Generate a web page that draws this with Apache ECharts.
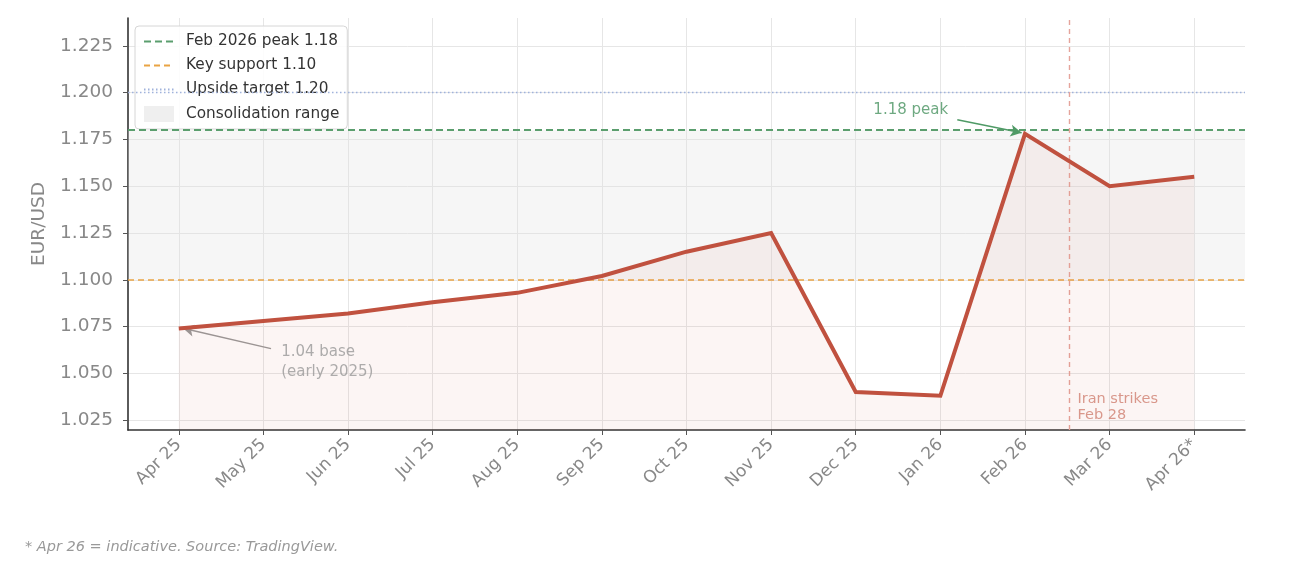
<!DOCTYPE html>
<html>
<head>
<meta charset="utf-8">
<script src="https://cdn.jsdelivr.net/npm/echarts@6/dist/echarts.min.js"></script>
<style>html,body{margin:0;padding:0;background:#fff;}#c{width:1290px;height:564px;}</style>
</head>
<body>
<div id="c"></div>
<script>
const months = ['Apr 25','May 25','Jun 25','Jul 25','Aug 25','Sep 25','Oct 25','Nov 25','Dec 25','Jan 26','Feb 26','Mar 26','Apr 26*'];
const rates = [1.074, 1.078, 1.082, 1.088, 1.093, 1.102, 1.115, 1.125, 1.040, 1.038, 1.178, 1.150, 1.155];
const yTicks = [1.025, 1.050, 1.075, 1.100, 1.125, 1.150, 1.175, 1.200, 1.225];
const peakLevel = 1.18;
const supportLevel = 1.10;
const targetLevel = 1.20;
const rangeLow = 1.10, rangeHigh = 1.18;
const iranStrikeX = 10.52; // Feb 28 between Feb 26 and Mar 26
const peakNote = {text: '1.18 peak', x: 8.65, y: 1.1908, arrowFrom: [9.2, 1.1855], arrowTo: [9.96, 1.1786]};
const baseNote = {text: '1.04 base\n(early 2025)', x: 1.21, y: 1.0665, arrowFrom: [1.09, 1.0632], arrowTo: [0.05, 1.0741]};
const iranNote = {text: 'Iran strikes\nFeb 28', x: 10.62, y: 1.0405};

const idx = months.map((m, i) => i);
const font = 'DejaVu Sans';
const chart = echarts.init(document.getElementById('c'));
chart.setOption({
  animation: false,
  backgroundColor: '#fff',
  textStyle: {fontFamily: font},
  title: {
    text: '* Apr 26 = indicative. Source: TradingView.',
    left: 20, top: 535,
    textStyle: {fontFamily: font, fontSize: 14.5, fontStyle: 'italic', fontWeight: 'normal', color: '#999'}
  },
  grid: {left: 128, right: 45, top: 18, bottom: 134},
  legend: {
    orient: 'vertical', left: 135, top: 26,
    backgroundColor: 'rgba(255,255,255,0.85)', borderColor: '#d6d6d6', borderWidth: 1, borderRadius: 4,
    padding: [8, 8, 7, 8], itemGap: 9, itemWidth: 30, itemHeight: 16,
    itemStyle: {opacity: 0},
    textStyle: {fontFamily: font, fontSize: 15.3, color: '#333', padding: [0, 0, 0, 7]},
    data: [
      {name: 'Feb 2026 peak 1.18'},
      {name: 'Key support 1.10'},
      {name: 'Upside target 1.20'},
      {name: 'Consolidation range', icon: 'rect', itemStyle: {opacity: 1, color: '#efefef'}}
    ]
  },
  xAxis: {
    type: 'value', min: -0.6, max: 12.6,
    axisLine: {show: true, onZero: false, lineStyle: {color: '#333', width: 1.6}},
    axisTick: {show: true, length: 5, lineStyle: {color: '#555'}, customValues: idx},
    axisLabel: {customValues: idx, rotate: 45, margin: 12, fontFamily: font, fontSize: 17, color: '#888',
      formatter: v => months[Math.round(v)]},
    splitLine: {show: true, lineStyle: {color: '#e6e6e6', width: 1}}
  },
  yAxis: {
    type: 'value', min: 1.0197, max: 1.2399,
    name: 'EUR/USD', nameLocation: 'middle', nameGap: 77, nameRotate: 90,
    nameTextStyle: {fontFamily: font, fontSize: 18.5, color: '#888'},
    axisLine: {show: true, onZero: false, lineStyle: {color: '#333', width: 1.6}},
    axisTick: {show: true, length: 5, lineStyle: {color: '#555'}, customValues: yTicks},
    axisLabel: {customValues: yTicks, fontFamily: font, fontSize: 18.5, color: '#888', margin: 15,
      formatter: v => v.toFixed(3)},
    splitLine: {show: true, lineStyle: {color: '#e6e6e6', width: 1}}
  },
  series: [
    {
      name: 'Consolidation range', type: 'line', data: [], symbol: 'none',
      itemStyle: {color: '#efefef'}, lineStyle: {color: '#efefef', width: 0},
      markArea: {silent: true, itemStyle: {color: 'rgba(225,225,225,0.3)'},
        data: [[{yAxis: rangeLow}, {yAxis: rangeHigh}]]}
    },
    {
      name: 'Key support 1.10', type: 'line', data: [], symbol: 'none',
      itemStyle: {color: '#e9a444'}, lineStyle: {color: '#e9a444', type: [6, 4], width: 1.5},
      markLine: {silent: true, symbol: 'none', label: {show: false},
        lineStyle: {color: '#e9a444', type: [6, 4], width: 1.5}, data: [{yAxis: supportLevel}]}
    },
    {
      name: 'Upside target 1.20', type: 'line', data: [], symbol: 'none',
      itemStyle: {color: '#9fb2dc'}, lineStyle: {color: '#9fb2dc', type: [1.5, 2.5], width: 1.3},
      markLine: {silent: true, symbol: 'none', label: {show: false},
        lineStyle: {color: '#9fb2dc', type: [1.5, 2.5], width: 1.3}, data: [{yAxis: targetLevel}]}
    },
    {
      name: 'Feb 2026 peak 1.18', type: 'line', data: [], symbol: 'none',
      itemStyle: {color: '#5b9e6e'}, lineStyle: {color: '#5b9e6e', type: [7, 4], width: 1.8},
      markLine: {silent: true, symbol: 'none', label: {show: false},
        lineStyle: {color: '#5b9e6e', type: [7, 4], width: 1.8}, data: [{yAxis: peakLevel}]}
    },
    {
      name: 'Iran', type: 'line', data: [], symbol: 'none',
      markLine: {silent: true, symbol: 'none', label: {show: false},
        lineStyle: {color: '#e5a49b', type: [5, 4], width: 1.4}, data: [{xAxis: iranStrikeX}]}
    },
    {
      name: 'EUR/USD', type: 'line', symbol: 'none', z: 5,
      data: rates.map((v, i) => [i, v]),
      lineStyle: {color: '#c0513f', width: 4, join: 'miter'},
      itemStyle: {color: '#c0513f'},
      areaStyle: {color: 'rgba(192,81,63,0.08)', origin: 'start'},
      markLine: {silent: true, symbol: ['none', 'arrow'], symbolSize: [9, 11], label: {show: false},
        data: [
          [{coord: peakNote.arrowFrom, lineStyle: {color: '#4f9a66', width: 1.5, type: 'solid'}}, {coord: peakNote.arrowTo}],
          [{coord: baseNote.arrowFrom, lineStyle: {color: '#999', width: 1.5, type: 'solid'}}, {coord: baseNote.arrowTo}]
        ]}
    },
    {
      name: 'notes', type: 'scatter', symbolSize: 0, silent: true, z: 6,
      data: [
        {value: [peakNote.x, peakNote.y], label: {formatter: peakNote.text, color: '#4a9462', align: 'center', verticalAlign: 'middle'}},
        {value: [baseNote.x, baseNote.y], label: {formatter: baseNote.text, color: '#999', align: 'left', verticalAlign: 'top', lineHeight: 20}},
        {value: [iranNote.x, iranNote.y], label: {formatter: iranNote.text, color: '#d08070', align: 'left', verticalAlign: 'top', lineHeight: 16, fontSize: 14.5}}
      ],
      label: {show: true, position: [0, 0], fontFamily: font, fontSize: 15}
    }
  ]
});
</script>
</body>
</html>
